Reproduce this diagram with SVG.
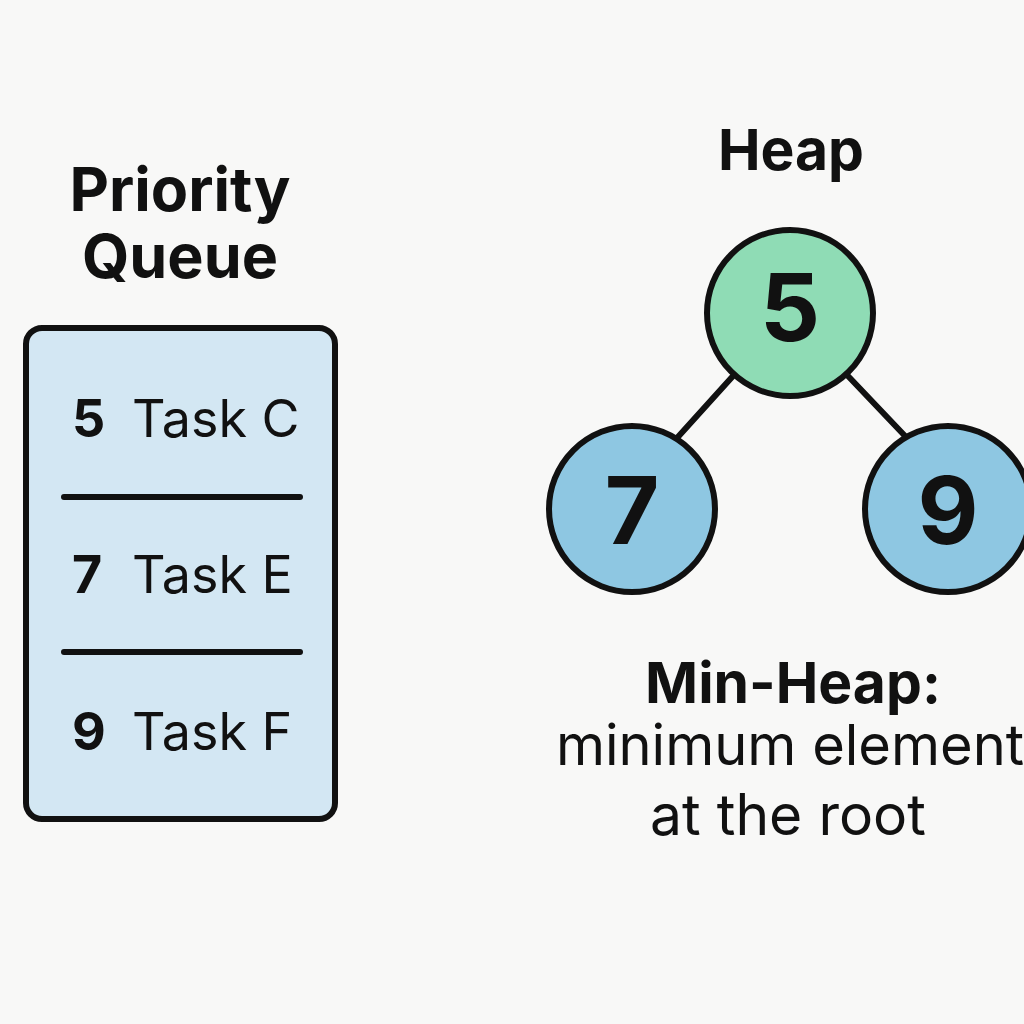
<svg xmlns="http://www.w3.org/2000/svg" width="1024" height="1024" viewBox="0 0 1024 1024">
<style>
.t{font-family:Inter,"Liberation Sans",sans-serif;fill:#111;}
.b{font-weight:700;}
.ln{stroke:#111;stroke-width:6;stroke-linecap:round;fill:none;}
.node{stroke:#111;stroke-width:6;}
</style>
<rect width="1024" height="1024" fill="#f8f8f7"/>
<g id="pq-title"><text class="t b" x="180" y="211" font-size="61" text-anchor="middle">Priority</text><text class="t b" x="180" y="278" font-size="61" text-anchor="middle">Queue</text></g>
<g id="priority-queue">
<rect x="26" y="328" width="309" height="491" rx="16" fill="#d3e7f3" stroke="#111" stroke-width="6"/>
<line class="ln" x1="64" y1="497" x2="300" y2="497"/>
<line class="ln" x1="64" y1="652" x2="300" y2="652"/>
<text class="t b" x="72" y="437" font-size="52">5</text><text class="t" x="132" y="437" font-size="52">Task C</text>
<text class="t b" x="72" y="593" font-size="52">7</text><text class="t" x="132" y="593" font-size="52">Task E</text>
<text class="t b" x="72" y="750" font-size="52">9</text><text class="t" x="132" y="750" font-size="52">Task F</text>
</g>
<g id="heap-title"><text class="t b" x="791" y="170" font-size="57" text-anchor="middle">Heap</text></g>
<g id="edges">
<line class="ln" x1="733" y1="376" x2="677" y2="438"/>
<line class="ln" x1="848" y1="376" x2="906" y2="437"/>
</g>
<g id="node-5"><circle class="node" cx="790" cy="313" r="83" fill="#8fdcb5"/><text class="t b" x="790" y="341" font-size="94" text-anchor="middle">5</text></g>
<g id="node-7"><circle class="node" cx="632" cy="509" r="83" fill="#8ec7e2"/><text class="t b" x="632" y="544" font-size="94" text-anchor="middle">7</text></g>
<g id="node-9"><circle class="node" cx="948" cy="509" r="83" fill="#8ec7e2"/><text class="t b" x="948" y="544" font-size="94" text-anchor="middle">9</text></g>
<g id="caption">
<text class="t b" x="793" y="703" font-size="57" text-anchor="middle">Min-Heap:</text>
<text class="t" x="790" y="765" font-size="56" text-anchor="middle">minimum element</text>
<text class="t" x="788" y="835" font-size="57" text-anchor="middle">at the root</text>
</g>
</svg>
